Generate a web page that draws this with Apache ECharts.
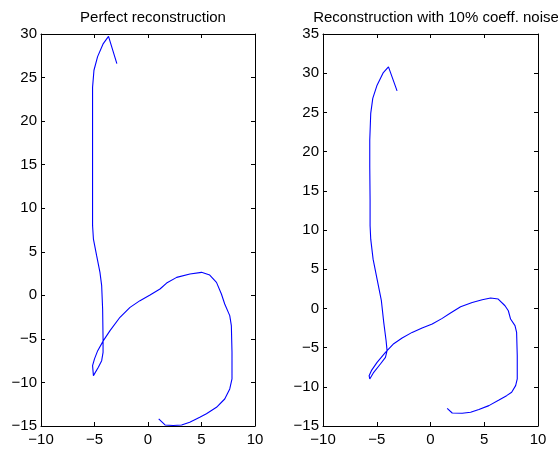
<!DOCTYPE html>
<html>
<head>
<meta charset="utf-8">
<script src="https://cdn.jsdelivr.net/npm/echarts@6/dist/echarts.min.js"></script>
<style>
  html, body { margin: 0; padding: 0; background: #fff; }
  #chart { width: 558px; height: 452px; }
</style>
</head>
<body>
<div id="chart"></div>
<script>
// Trajectory reconstructed from exact coefficients
const perfectX = [-2.91, -3.69, -4.18, -4.71, -5.05, -5.18, -5.18, -5.18, -5.1, -4.8, -4.49, -4.33, -4.24, -4.2, -4.2, -4.33, -4.64, -5.1, -5.2, -5.18, -5.0, -4.7, -4.17, -3.55, -2.62, -1.68, -0.75, 0.19, 1.12, 1.74, 2.68, 3.92, 5.0, 5.77, 6.4, 6.86, 7.17, 7.64, 7.79, 7.85, 7.85, 7.64, 7.17, 6.4, 5.46, 4.84, 3.9, 3.14, 2.35, 1.59, 1.0];
const perfectY = [26.6, 29.73, 28.9, 27.4, 25.84, 23.9, 10.0, 8.0, 6.46, 4.55, 2.64, 1.11, -1.57, -5.0, -6.54, -7.5, -8.26, -9.22, -9.0, -8.07, -7.3, -6.35, -5.2, -4.05, -2.52, -1.38, -0.61, 0.04, 0.73, 1.41, 2.06, 2.45, 2.64, 2.33, 1.49, 0.15, -1.0, -2.33, -3.48, -6.54, -9.6, -10.75, -11.9, -12.85, -13.6, -14.0, -14.57, -14.88, -14.95, -14.88, -14.19];

// Trajectory reconstructed from coefficients with 10% noise
const noisyX = [-3.11, -3.91, -4.41, -4.97, -5.37, -5.56, -5.65, -5.65, -5.62, -5.62, -5.56, -5.34, -4.97, -4.57, -4.35, -4.13, -4.04, -4.19, -4.66, -5.28, -5.65, -5.71, -5.5, -4.97, -4.19, -3.42, -2.64, -1.71, -0.78, 0.16, 1.09, 1.86, 2.8, 3.88, 4.81, 5.59, 6.3, 6.93, 7.24, 7.45, 7.86, 8.01, 8.07, 8.07, 7.92, 7.55, 7.08, 6.37, 5.43, 4.5, 3.73, 2.95, 2.02, 1.55];
const noisyY = [27.75, 30.8, 30.04, 28.47, 26.78, 24.87, 21.48, 18.09, 13.86, 10.53, 8.83, 6.28, 3.74, 0.98, -1.78, -4.12, -5.39, -6.24, -7.09, -8.15, -9.0, -8.58, -7.94, -6.88, -5.6, -4.5, -3.78, -3.06, -2.5, -2.0, -1.27, -0.59, 0.21, 0.76, 1.1, 1.32, 1.19, 0.34, -0.3, -1.36, -2.2, -3.06, -6.03, -9.0, -9.85, -10.7, -11.13, -11.68, -12.4, -12.9, -13.25, -13.38, -13.34, -12.74];

// Axis ranges
const xRange = [-10, 10];
const leftYRange = [-15, 30];
const rightYRange = [-15, 35];
const tickStep = 5;

const titles = ['Perfect reconstruction', 'Reconstruction with 10% coeff. noise'];

const FONT = 'Liberation Sans, Arial, Helvetica, sans-serif';
const FS = 15;
const minus = v => String(v).replace('-', '\u2212');

function pairs(xs, ys) { return xs.map((x, i) => [x, ys[i]]); }

function xAxisFor(gridIndex, pos, showLabel) {
  return {
    type: 'value', gridIndex, position: pos,
    min: xRange[0], max: xRange[1], interval: tickStep,
    axisLine: { show: true, onZero: false, lineStyle: { color: '#000', width: 1 } },
    axisTick: { show: true, inside: true, length: 4, lineStyle: { color: '#000' } },
    axisLabel: { show: showLabel, margin: 6, color: '#000', fontFamily: FONT, fontSize: FS, formatter: minus, showMinLabel: true, showMaxLabel: true },
    splitLine: { show: false }
  };
}
function yAxisFor(gridIndex, pos, range, showLabel) {
  return {
    type: 'value', gridIndex, position: pos,
    min: range[0], max: range[1], interval: tickStep,
    axisLine: { show: true, onZero: false, lineStyle: { color: '#000', width: 1 } },
    axisTick: { show: true, inside: true, length: 4, lineStyle: { color: '#000' } },
    axisLabel: { show: showLabel, margin: 4, color: '#000', fontFamily: FONT, fontSize: FS, formatter: minus, showMinLabel: true, showMaxLabel: true },
    splitLine: { show: false }
  };
}

const chart = echarts.init(document.getElementById('chart'), null, { renderer: 'canvas' });
chart.setOption({
  animation: false,
  backgroundColor: '#fff',
  title: [
    { text: titles[0], left: 148, top: 5, textAlign: 'center',
      textStyle: { fontFamily: FONT, fontSize: FS, fontWeight: 'normal', color: '#000' } },
    { text: titles[1], left: 431, top: 5, textAlign: 'center',
      textStyle: { fontFamily: FONT, fontSize: FS, fontWeight: 'normal', color: '#000' } }
  ],
  grid: [
    { left: 41, top: 34, width: 214, height: 392 },
    { left: 323, top: 34, width: 215, height: 392 }
  ],
  xAxis: [
    xAxisFor(0, 'bottom', true),
    xAxisFor(0, 'top', false),
    xAxisFor(1, 'bottom', true),
    xAxisFor(1, 'top', false)
  ],
  yAxis: [
    yAxisFor(0, 'left', leftYRange, true),
    yAxisFor(0, 'right', leftYRange, false),
    yAxisFor(1, 'left', rightYRange, true),
    yAxisFor(1, 'right', rightYRange, false)
  ],
  series: [
    { type: 'line', xAxisIndex: 0, yAxisIndex: 0, data: pairs(perfectX, perfectY),
      showSymbol: false, symbol: 'none', lineStyle: { color: '#0000ff', width: 1.1 } },
    { type: 'line', xAxisIndex: 2, yAxisIndex: 2, data: pairs(noisyX, noisyY),
      showSymbol: false, symbol: 'none', lineStyle: { color: '#0000ff', width: 1.1 } }
  ]
});
</script>
</body>
</html>
